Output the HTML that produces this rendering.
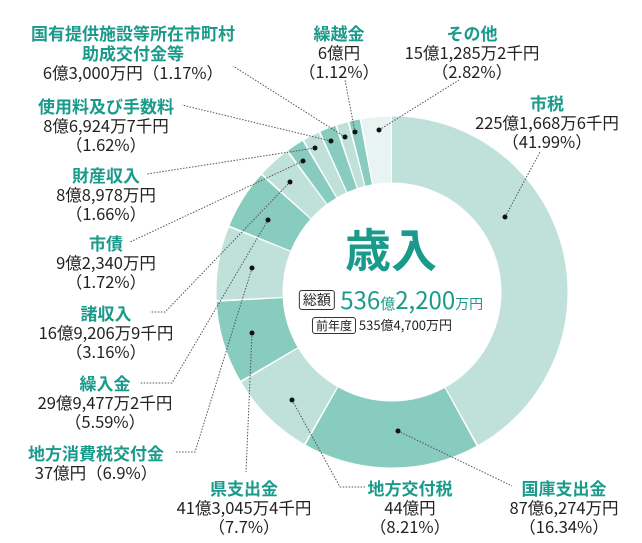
<!DOCTYPE html>
<html><head><meta charset="utf-8"><style>
body{margin:0;width:642px;height:543px;background:#fff;position:relative;overflow:hidden;font-family:"Noto Sans CJK JP",sans-serif;}
.l{position:absolute;text-align:center;white-space:nowrap;transform:translateX(-50%);font-size:16.5px;line-height:19px;color:#222;}
.t{color:#1a9a8b;font-weight:bold;font-size:17px;}
svg{position:absolute;left:0;top:0;}
.box{display:inline-block;border:1px solid #333;border-radius:3px;padding:0 3px;color:#222;}
</style></head><body>
<svg width="642" height="543" viewBox="0 0 642 543">
<g transform="rotate(-90 392 292)" fill="none" stroke-width="66">
<circle cx="392" cy="292" r="142.5" stroke="#bfe1da" stroke-dasharray="374.5 900" stroke-dashoffset="0"/>
<circle cx="392" cy="292" r="142.5" stroke="#88cbbf" stroke-dasharray="144.8 900" stroke-dashoffset="-375.96"/>
<circle cx="392" cy="292" r="142.5" stroke="#bfe1da" stroke-dasharray="72 900" stroke-dashoffset="-522.26"/>
<circle cx="392" cy="292" r="142.5" stroke="#88cbbf" stroke-dasharray="67.4 900" stroke-dashoffset="-595.77"/>
<circle cx="392" cy="292" r="142.5" stroke="#bfe1da" stroke-dasharray="60.3 900" stroke-dashoffset="-664.71"/>
<circle cx="392" cy="292" r="142.5" stroke="#88cbbf" stroke-dasharray="48.5 900" stroke-dashoffset="-726.49"/>
<circle cx="392" cy="292" r="142.5" stroke="#bfe1da" stroke-dasharray="26.8 900" stroke-dashoffset="-776.54"/>
<circle cx="392" cy="292" r="142.5" stroke="#88cbbf" stroke-dasharray="13.9 900" stroke-dashoffset="-804.83"/>
<circle cx="392" cy="292" r="142.5" stroke="#bfe1da" stroke-dasharray="13.4 900" stroke-dashoffset="-820.23"/>
<circle cx="392" cy="292" r="142.5" stroke="#88cbbf" stroke-dasharray="13 900" stroke-dashoffset="-835.09"/>
<circle cx="392" cy="292" r="142.5" stroke="#bfe1da" stroke-dasharray="9 900" stroke-dashoffset="-849.59"/>
<circle cx="392" cy="292" r="142.5" stroke="#88cbbf" stroke-dasharray="8.5 900" stroke-dashoffset="-860.07"/>
<circle cx="392" cy="292" r="142.5" stroke="#e8f4f2" stroke-dasharray="23.7 900" stroke-dashoffset="-870.10"/>
</g>
<g stroke="#555" stroke-width="1" stroke-dasharray="1.5 1.5" fill="none">
<polyline points="505,217 540,152"/>
<polyline points="379,130 459,80"/>
<polyline points="355,132 345,80"/>
<polyline points="345,137 233,66"/>
<polyline points="331,141 182,105"/>
<polyline points="315,148 147,174"/>
<polyline points="303,161 130,242"/>
<polyline points="290,182 165,312 150,312"/>
<polyline points="268,220 172,383 140,383"/>
<polyline points="252,268 195,452 175,452"/>
<polyline points="252,333 246,472"/>
<polyline points="292,400 340,487 365,487"/>
<polyline points="398,431 512,486"/>
</g>
<g fill="#111">
<circle cx="505" cy="217" r="2.5"/><circle cx="379" cy="130" r="2.5"/><circle cx="355" cy="132" r="2.5"/>
<circle cx="345" cy="137" r="2.5"/><circle cx="331" cy="141" r="2.5"/><circle cx="315" cy="148" r="2.5"/>
<circle cx="303" cy="161" r="2.5"/><circle cx="290" cy="182" r="2.5"/><circle cx="268" cy="220" r="2.5"/>
<circle cx="252" cy="268" r="2.5"/><circle cx="252" cy="333" r="2.5"/><circle cx="292" cy="400" r="2.5"/>
<circle cx="398" cy="431" r="2.5"/>
</g>
</svg>
<div class="l" style="left:391px;top:220px;font-size:46px;line-height:56px;font-weight:bold;color:#1a9a8b;">歳入</div>
<div class="l" style="left:391px;top:284px;line-height:30px;font-size:24px;color:#1a9a8b;"><span class="box" style="font-size:14px;line-height:18px;vertical-align:4px;">総額</span> 536<span style="font-size:15px">億</span>2,200<span style="font-size:14px">万円</span></div>
<div class="l" style="left:382px;top:316px;font-size:13px;line-height:18px;"><span class="box" style="font-size:12px;line-height:15px">前年度</span> 535億4,700万円</div>

<div class="l" style="left:133px;top:23px;"><span class="t">国有提供施設等所在市町村<br>助成交付金等</span><br>6億3,000万円（1.17%）</div>
<div class="l" style="left:339px;top:23px;"><span class="t">繰越金</span><br>6億円<br>（1.12%）</div>
<div class="l" style="left:472px;top:23px;"><span class="t">その他</span><br>15億1,285万2千円<br>（2.82%）</div>
<div class="l" style="left:547px;top:93px;"><span class="t">市税</span><br>225億1,668万6千円<br>（41.99%）</div>
<div class="l" style="left:106px;top:96px;"><span class="t">使用料及び手数料</span><br>8億6,924万7千円<br>（1.62%）</div>
<div class="l" style="left:106px;top:165px;"><span class="t">財産収入</span><br>8億8,978万円<br>（1.66%）</div>
<div class="l" style="left:106px;top:233px;"><span class="t">市債</span><br>9億2,340万円<br>（1.72%）</div>
<div class="l" style="left:106px;top:303px;"><span class="t">諸収入</span><br>16億9,206万9千円<br>（3.16%）</div>
<div class="l" style="left:105px;top:373px;"><span class="t">繰入金</span><br>29億9,477万2千円<br>（5.59%）</div>
<div class="l" style="left:96px;top:443px;"><span class="t">地方消費税交付金</span><br>37億円（6.9%）</div>
<div class="l" style="left:244px;top:478px;"><span class="t">県支出金</span><br>41億3,045万4千円<br>（7.7%）</div>
<div class="l" style="left:410px;top:478px;"><span class="t">地方交付税</span><br>44億円<br>（8.21%）</div>
<div class="l" style="left:564px;top:478px;"><span class="t">国庫支出金</span><br>87億6,274万円<br>（16.34%）</div>
</body></html>
